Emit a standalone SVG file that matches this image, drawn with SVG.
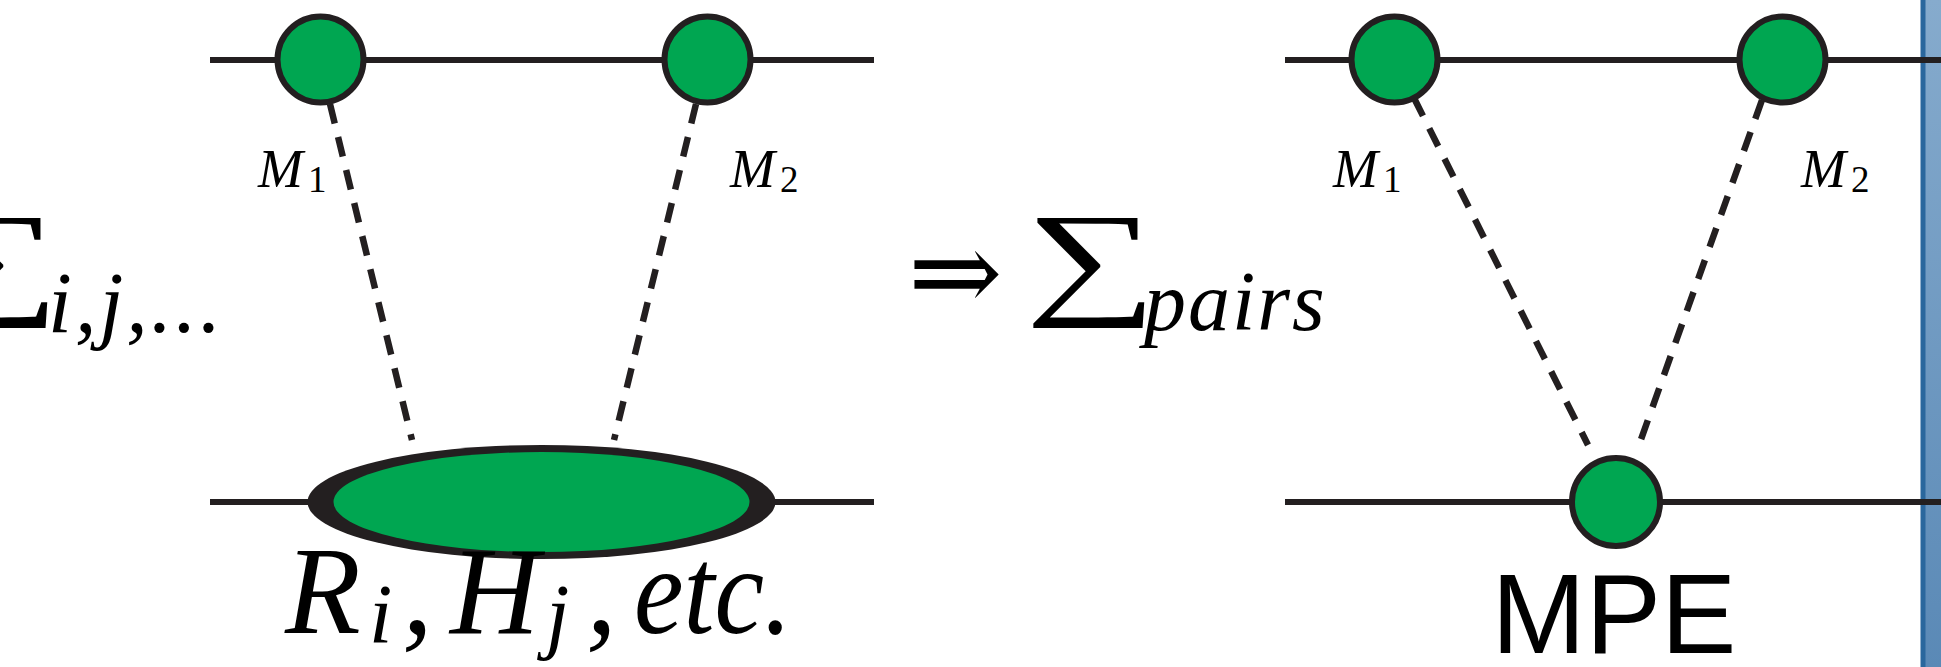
<svg xmlns="http://www.w3.org/2000/svg" width="1941" height="667" viewBox="0 0 1941 667">
<defs>
<linearGradient id="barGrad" x1="0" y1="0" x2="0" y2="1">
<stop offset="0" stop-color="#86ABCD"/>
<stop offset="1" stop-color="#5A89B6"/>
</linearGradient>
<style>
.wire{stroke:#231F20;stroke-width:6;fill:none}
.dash{stroke:#231F20;stroke-width:6.5;fill:none;stroke-dasharray:20 14}
.node{fill:#00A651;stroke:#231F20;stroke-width:6}
.math{font-family:"Liberation Serif","Times New Roman",serif;font-style:italic;fill:#000}
.rm{font-family:"Liberation Serif","Times New Roman",serif;fill:#000}
.sym{font-family:"Liberation Serif","DejaVu Serif",serif;fill:#000}
.sans{font-family:"Liberation Sans",Arial,sans-serif;fill:#000}
</style>
</defs>
<rect width="1941" height="667" fill="#fff"/>
<g id="bar">
<rect x="1925" y="0" width="16" height="667" fill="url(#barGrad)"/>
<rect x="1920.5" y="0" width="5" height="667" fill="#2A679D"/>
</g>
<g id="connectors">
<line class="wire" x1="210" y1="60" x2="874" y2="60"/>
<line class="wire" x1="210" y1="502" x2="874" y2="502"/>
<line class="wire" x1="1285" y1="60" x2="1941" y2="60"/>
<line class="wire" x1="1285" y1="502" x2="1941" y2="502"/>
<line class="dash" x1="330" y1="104" x2="412" y2="440"/>
<line class="dash" x1="696" y1="104" x2="614" y2="440"/>
<line class="dash" x1="1414" y1="98" x2="1588" y2="445"/>
<line class="dash" x1="1762" y1="100" x2="1639" y2="445"/>
</g>
<g id="left-M1"><circle class="node" cx="320.5" cy="59.5" r="43"/></g>
<g id="left-M2"><circle class="node" cx="707.5" cy="59.5" r="43"/></g>
<g id="left-blob">
<ellipse cx="541.5" cy="502" rx="234" ry="57" fill="#231F20"/>
<ellipse cx="541.5" cy="502" rx="208" ry="50" fill="#00A651"/>
</g>
<g id="right-M1"><circle class="node" cx="1394.5" cy="59.5" r="43"/></g>
<g id="right-M2"><circle class="node" cx="1782.5" cy="59.5" r="43"/></g>
<g id="mpe"><circle class="node" cx="1616" cy="502" r="44"/></g>
<g id="labels">
<text class="math" x="258" y="187" font-size="54">M</text>
<text class="rm" x="308" y="192" font-size="37">1</text>
<text class="math" x="730" y="187" font-size="54">M</text>
<text class="rm" x="780" y="192" font-size="37">2</text>
<text class="math" x="1333" y="187" font-size="54">M</text>
<text class="rm" x="1383" y="192" font-size="37">1</text>
<text class="math" x="1801" y="187" font-size="54">M</text>
<text class="rm" x="1851" y="192" font-size="37">2</text>
<text class="sym" transform="translate(-72,301) scale(1.46,1)" font-size="127">∑</text>
<text class="math" x="48" y="332" font-size="86" letter-spacing="3">i,j,...</text>
<text class="sym" x="908" y="311" font-size="113" font-family="DejaVu Serif">⇒</text>
<text class="sym" transform="translate(1025,301) scale(1.46,1)" font-size="127">∑</text>
<text class="math" x="1144" y="330" font-size="84" letter-spacing="2">pairs</text>
<text class="math" font-size="124"><tspan x="285" y="633">R</tspan><tspan x="369" y="643" font-size="84">i</tspan><tspan x="402" y="633">,</tspan><tspan x="450" y="633">H</tspan><tspan x="546" y="643" font-size="84">j</tspan><tspan x="586" y="633">,</tspan><tspan x="634" y="633" textLength="158" lengthAdjust="spacingAndGlyphs">etc.</tspan></text>
<text class="sans" x="1614" y="653" font-size="113" text-anchor="middle">MPE</text>
</g>
</svg>
